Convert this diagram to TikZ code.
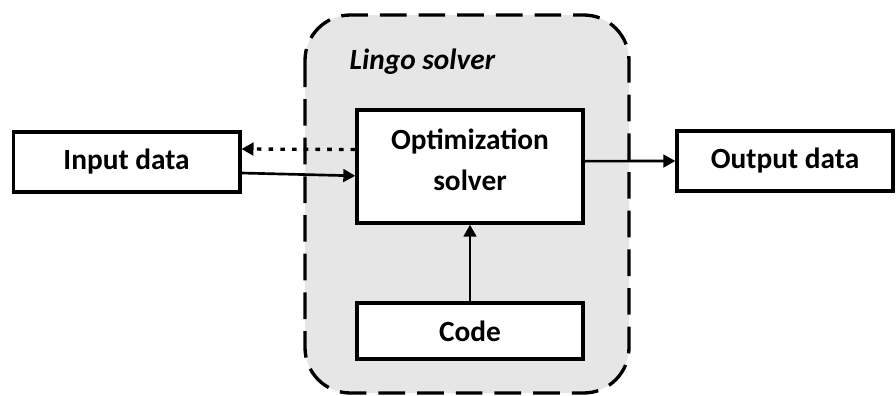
\documentclass[tikz,border=0pt]{standalone}
\usepackage{fontspec}
\setmainfont{Carlito}
\usetikzlibrary{arrows.meta}
\definecolor{solvergray}{HTML}{E6E6E6}
\tikzset{
  box/.style={draw, line width=2.5pt, fill=white, inner sep=0pt,
    font=\fontsize{22}{31}\selectfont\bfseries, align=center},
  arrow/.style={line width=2pt, -{Triangle[length=9pt,width=9.5pt]}},
}
\begin{document}
\begin{tikzpicture}[x=0.75pt,y=-0.75pt]
    \useasboundingbox (0,0) rectangle (896,396);
    % solver frame
    \draw [line width=2.5pt, dash pattern=on 20pt off 9pt, fill=solvergray, rounded corners=34pt]
      (305,15) rectangle (629,393);
    \node [anchor=base west, font=\fontsize{22}{26}\selectfont\bfseries\itshape] (title) at (345,69) {Lingo solver};
    % boxes
    \node [box, minimum width=170pt, minimum height=45pt] (in) at (126.5,162) {Input data};
    \node [box, minimum width=169.5pt, minimum height=84.75pt, text depth=10pt] (opt) at (470,166.5) {Optimization\\solver};
    \node [box, minimum width=169.5pt, minimum height=42pt] (code) at (470,331) {Code};
    \node [box, minimum width=162pt, minimum height=45pt] (out) at (785,161) {Output data};
    % connectors
    \draw [arrow, line width=2.5pt, dash pattern=on 3.5pt off 5.3pt] ([yshift=12.75pt]opt.west) -- ([yshift=9.75pt]in.east);
    \draw [arrow] ([yshift=-8.25pt]in.east) -- ([yshift=-7pt]opt.west);
    \draw [arrow] (code.north) -- (opt.south);
    \draw [arrow] ([yshift=4pt]opt.east) -- (out.west);
\end{tikzpicture}
\end{document}
